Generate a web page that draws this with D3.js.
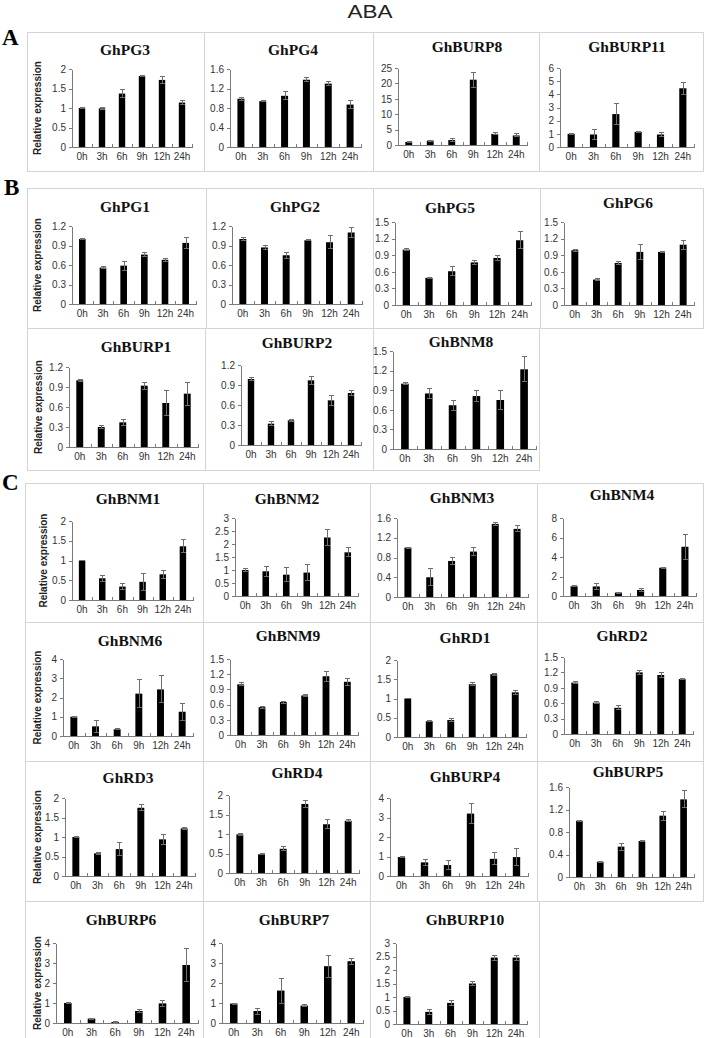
<!DOCTYPE html>
<html><head><meta charset="utf-8">
<script src="https://cdn.jsdelivr.net/npm/d3@7"></script>
<style>body{margin:0;background:#fff} svg{display:block}</style>
</head><body><svg id="c" width="709" height="1038"></svg>
<script>
// ---------- DATA ----------
const categories = ["0h","3h","6h","9h","12h","24h"];
const geneNames = ["GhPG3","GhPG4","GhBURP8","GhBURP11",
  "GhPG1","GhPG2","GhPG5","GhPG6",
  "GhBURP1","GhBURP2","GhBNM8",
  "GhBNM1","GhBNM2","GhBNM3","GhBNM4",
  "GhBNM6","GhBNM9","GhRD1","GhRD2",
  "GhRD3","GhRD4","GhBURP4","GhBURP5",
  "GhBURP6","GhBURP7","GhBURP10"];
const meanValues = [
  [1.0,0.99,1.37,1.82,1.72,1.14],
  [0.99,0.94,1.05,1.38,1.30,0.87],
  [1.0,1.4,1.6,21.2,3.6,3.1],
  [1.0,0.95,2.5,1.15,0.95,4.46],
  [1.0,0.56,0.59,0.76,0.68,0.94],
  [1.0,0.87,0.75,0.98,0.95,1.1],
  [1.0,0.49,0.61,0.77,0.85,1.17],
  [0.99,0.46,0.76,0.96,0.96,1.09],
  [1.0,0.3,0.37,0.92,0.66,0.8],
  [0.99,0.32,0.37,0.97,0.67,0.78],
  [1.0,0.85,0.67,0.81,0.75,1.22],
  [1.0,0.55,0.34,0.46,0.65,1.36],
  [1.0,0.95,0.82,0.9,2.25,1.68],
  [1.0,0.4,0.73,0.92,1.48,1.38],
  [1.0,0.98,0.35,0.62,2.9,5.05],
  [1.0,0.5,0.35,2.2,2.42,1.26],
  [1.0,0.55,0.65,0.78,1.16,1.05],
  [1.0,0.41,0.44,1.37,1.63,1.16],
  [1.0,0.61,0.51,1.2,1.15,1.07],
  [1.0,0.58,0.69,1.75,0.94,1.22],
  [0.99,0.48,0.62,1.77,1.25,1.34],
  [0.97,0.7,0.56,3.2,0.88,0.97],
  [1.0,0.27,0.54,0.64,1.09,1.38],
  [1.0,0.22,0.05,0.6,0.98,2.9],
  [0.97,0.6,1.62,0.87,2.84,3.09],
  [1.0,0.45,0.78,1.5,2.46,2.46]
];
const errorValues = [
  [0.01,0.03,0.1,0.01,0.1,0.06],
  [0.03,0.01,0.08,0.04,0.04,0.08],
  [0.2,0.2,0.4,2.5,0.3,0.5],
  [0.03,0.35,0.8,0.05,0.15,0.45],
  [0.01,0.01,0.07,0.03,0.02,0.08],
  [0.02,0.03,0.05,0.01,0.1,0.08],
  [0.02,0.01,0.08,0.03,0.05,0.15],
  [0.02,0.01,0.03,0.13,0.01,0.08],
  [0.01,0.02,0.04,0.05,0.19,0.17],
  [0.02,0.03,0.01,0.06,0.08,0.04],
  [0.02,0.07,0.08,0.08,0.14,0.19],
  [0.01,0.08,0.07,0.22,0.1,0.17],
  [0.05,0.2,0.26,0.3,0.3,0.17],
  [0.01,0.17,0.07,0.08,0.03,0.06],
  [0.05,0.3,0.05,0.2,0.05,1.3],
  [0.02,0.32,0.02,0.72,0.7,0.45],
  [0.03,0.02,0.02,0.02,0.1,0.07],
  [0.01,0.02,0.03,0.04,0.02,0.06],
  [0.02,0.02,0.04,0.04,0.04,0.01],
  [0.01,0.03,0.17,0.08,0.12,0.02],
  [0.02,0.01,0.05,0.09,0.12,0.02],
  [0.03,0.17,0.22,0.52,0.3,0.42],
  [0.01,0.01,0.06,0.01,0.08,0.15],
  [0.01,0.02,0.02,0.07,0.14,0.84],
  [0.02,0.15,0.62,0.04,0.56,0.15],
  [0.01,0.1,0.1,0.09,0.09,0.09]
];
const t2 = [0,0.5,1,1.5,2], t16 = [0,0.4,0.8,1.2,1.6], t12 = [0,0.3,0.6,0.9,1.2],
      t15 = [0,0.3,0.6,0.9,1.2,1.5], t3 = [0,0.5,1,1.5,2,2.5,3], t4 = [0,1,2,3,4];
const yTickValues = [
  t2, t16, [0,5,10,15,20,25], [0,1,2,3,4,5,6],
  t12, t12, t15, t15,
  t12, t12, t15,
  t2, t3, t16, [0,2,4,6,8],
  t4, t15, t2, t15,
  t2, t2, t4, t16,
  t4, t4, t3
];
const yAxisTitle = "Relative expression";
const figureTitle = "ABA";
const sectionLetters = ["A","B","C"];

// ---------- LAYOUT (pixel positions) ----------
// [axisLeft, axisRight, yTopPx, yZeroPx, titleX, titleY, yLabelX or null]
const layout = [
  [72,192,69,147,125,50,37],[230,361,69,147,293,50,null],[398,527,68,145,467,47,null],[560,694,68,147,627,47,null],
  [72,196,226,304,125,207,37],[232,362,226,304,295,207,null],[395,531,222,305,450,208,null],[564,694,222,305,628,203,null],
  [69,198,367,447,136,347,38],[241,361,365,445,297,343,null],[393,536,351,449,461,342,null],
  [72,193,521,600,128,499,43],[235,358,518,596,287,499,null],[397,528,518,597,462,498,null],[563,696,518,596,622,495,null],
  [63,193,659,736,130,641,37],[230,358,659,735,288,636,null],[397,526,660,737,465,638,null],[564,693,657,734,622,636,null],
  [65,195,798,876,128,778,37],[229,359,795,873,297,773,null],[390,528,798,876,465,777,null],[569,694,787,877,628,772,null],
  [56,198,943,1023,121,920,37],[222,363,943,1023,294,920,null],[396,527,943,1024,465,920,null]
];
// cell grid rows: [yTop, yBottom, xEdges]
const gridRows = [
  [32,171,[27,204,373,539,703]],
  [188,328,[27,206,373,540,703]],
  [328,470,[27,205,373,539]],
  [483,622,[25,203,370,537,703]],
  [622,761,[25,203,370,537,703]],
  [761,901,[25,203,370,537,703]],
  [901,1045,[25,203,370,539]]
];
const letterPos = [[2,45],[4,195],[2,490]];

// ---------- DRAW ----------
const svg = d3.select("#c");
const sans = "'Liberation Sans', Arial, sans-serif";
const serif = "'Liberation Serif', 'Times New Roman', serif";

gridRows.forEach(([y0,y1,xs]) => {
  for (let i = 0; i < xs.length - 1; i++) {
    svg.append("rect").attr("x", xs[i] + 0.5).attr("y", y0 + 0.5)
      .attr("width", xs[i+1] - xs[i]).attr("height", y1 - y0)
      .attr("fill", "none").attr("stroke", "#d4d4d4").attr("stroke-width", 1);
  }
});

svg.append("text").attr("x", 370).attr("y", 18).attr("text-anchor", "middle")
  .attr("font-family", sans).attr("font-size", 19).attr("fill", "#222")
  .attr("textLength", 45).attr("lengthAdjust", "spacingAndGlyphs").text(figureTitle);

sectionLetters.forEach((l, i) => {
  svg.append("text").attr("x", letterPos[i][0]).attr("y", letterPos[i][1])
    .attr("font-family", serif).attr("font-weight", "bold").attr("font-size", 23)
    .attr("fill", "#000").text(l);
});

geneNames.forEach((name, gi) => {
  const [ax, ar, yt, yz, tx, ty, ylx] = layout[gi];
  const ticks = yTickValues[gi];
  const g = svg.append("g");
  const x = d3.scaleBand().domain(categories).range([ax, ar]).paddingInner(0.68).paddingOuter(0.34);
  const y = d3.scaleLinear().domain([0, d3.max(ticks)]).range([yz, yt]);

  g.append("text").attr("x", tx).attr("y", ty + 5).attr("text-anchor", "middle")
    .attr("font-family", serif).attr("font-weight", "bold").attr("font-size", 15.5)
    .attr("fill", "#111").text(name);

  if (ylx !== null) {
    g.append("text").attr("transform", `translate(${ylx},${(yt + yz) / 2}) rotate(-90)`)
      .attr("text-anchor", "middle").attr("dominant-baseline", "central")
      .attr("font-family", sans).attr("font-weight", "bold").attr("font-size", 10)
      .attr("fill", "#222").text(yAxisTitle);
  }

  const data = categories.map((c, i) => ({c, m: meanValues[gi][i], e: errorValues[gi][i]}));
  g.selectAll("rect.bar").data(data).enter().append("rect")
    .attr("x", d => x(d.c)).attr("width", x.bandwidth())
    .attr("y", d => y(d.m)).attr("height", d => y(0) - y(d.m))
    .attr("fill", "#000");

  const eb = g.selectAll("g.eb").data(data).enter().append("g")
    .attr("stroke", "#6e6e6e").attr("stroke-width", 1).attr("shape-rendering", "crispEdges");
  const cx = d => Math.round(x(d.c) + x.bandwidth() / 2) + 0.5;
  eb.append("line").attr("x1", cx).attr("x2", cx)
    .attr("y1", d => y(Math.max(0, d.m - d.e))).attr("y2", d => y(d.m + d.e));
  eb.append("line").attr("x1", d => cx(d) - 2.5).attr("x2", d => cx(d) + 2.5)
    .attr("y1", d => y(d.m + d.e)).attr("y2", d => y(d.m + d.e));
  eb.append("line").attr("x1", d => cx(d) - 2.5).attr("x2", d => cx(d) + 2.5)
    .attr("y1", d => y(Math.max(0, d.m - d.e))).attr("y2", d => y(Math.max(0, d.m - d.e)));

  const yAxis = g.append("g").attr("transform", `translate(${ax},0)`)
    .call(d3.axisLeft(y).tickValues(ticks).tickSize(3).tickSizeOuter(0).tickPadding(3).tickFormat(d => String(d)));
  yAxis.selectAll("path,line").attr("stroke", "#7a7a7a").attr("shape-rendering", "crispEdges");
  yAxis.selectAll("text").attr("font-family", sans).attr("font-size", 10).attr("fill", "#333");

  const xAxis = g.append("g").attr("transform", `translate(0,${yz})`)
    .call(d3.axisBottom(x).tickSize(0).tickSizeOuter(0).tickPadding(6));
  xAxis.selectAll("path").attr("stroke", "#7a7a7a").attr("shape-rendering", "crispEdges");
  xAxis.selectAll("text").attr("font-family", sans).attr("font-size", 10).attr("fill", "#333");
  const bounds = categories.map((c, i) => x(c) - (x.step() - x.bandwidth()) / 2 + x.step());
  xAxis.selectAll("line.bt").data(bounds).enter().append("line")
    .attr("x1", d => Math.round(d) + 0.5).attr("x2", d => Math.round(d) + 0.5)
    .attr("y1", 0).attr("y2", -3).attr("stroke", "#7a7a7a").attr("shape-rendering", "crispEdges");
});
</script></body></html>
